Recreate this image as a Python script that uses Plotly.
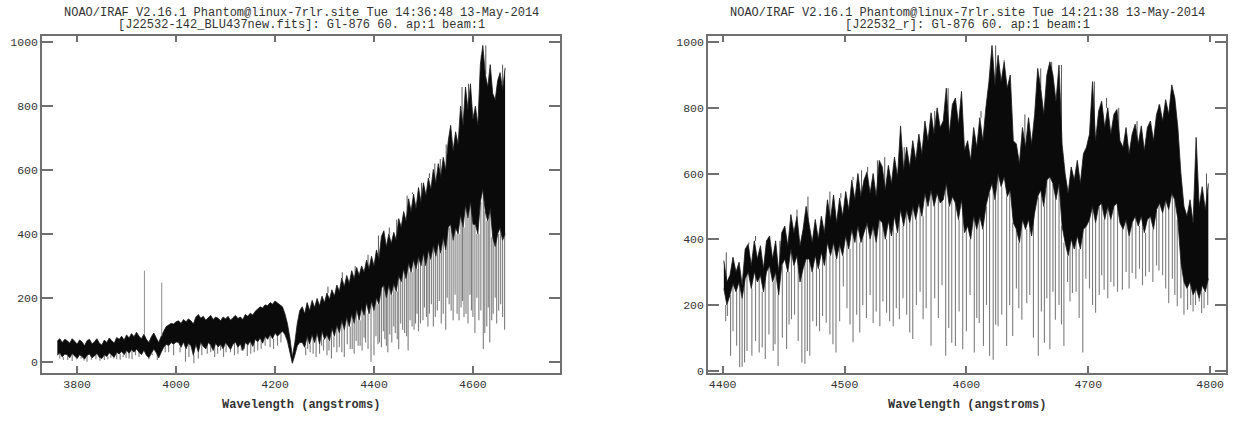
import numpy as np
import plotly.graph_objects as go

# ---------------- Left spectrum (J22532-142_BLU437new.fits), 5 A bins ----------------
L_START, L_STEP = 3760, 5
L_hi = [65, 72, 60, 70, 66, 58, 72, 64, 55, 68, 62, 50, 66, 70, 56, 62, 72, 58, 52, 68,
        60, 74, 66, 58, 76, 70, 80, 68, 84, 74, 88, 78, 92, 80, 72, 86,
        70, 60, 78, 90, 74, 60, 80,
        95, 110, 115, 120, 118, 125,
        128, 120, 132, 125, 134, 128, 118, 140, 148, 136, 142, 130, 138, 145, 132, 140, 136, 128, 140, 134,
        142, 130, 138, 145, 135, 140, 132, 148, 142, 152, 146, 158, 165, 172, 168, 178, 175, 185, 180, 190,
        184, 178,
        172, 150, 120, 75, 15, 60, 120, 160,
        172, 150, 185, 160, 192, 170, 198, 175, 205, 185,
        215, 195, 225, 205, 240, 220, 262, 235, 270, 245,
        285, 260, 295, 270, 300, 280, 318, 290, 330, 300,
        350, 320, 392, 410, 360, 400, 370, 405, 380, 448,
        420, 470, 440, 510, 470, 525, 480, 545, 500, 560,
        520, 575, 540, 602, 560, 620, 580, 640, 600, 690,
        740, 660, 720, 680, 800, 740, 860, 790, 870, 760,
        800, 740, 930, 990, 900, 860, 930, 840, 820, 880,
        905, 850, 920]
L_core = [20, 28, 15, 24, 22, 12, 26, 18, 10, 22, 16, 8, 20, 24, 12, 18, 26, 14, 10, 22,
          16, 28, 20, 14, 30, 24, 32, 22, 36, 26, 38, 30, 40, 30, 22, 36,
          20, 12, 26, 40, 28, 12, 30,
          45, 55, 50, 60, 55, 62,
          60, 45, 62, 40, 58, 50, 20, 55, 30, 62, 48, 40, 60, 52, 35, 58, 46, 55, 40, 60,
          50, 38, 55, 62, 45, 56, 35, 60, 52, 65, 48, 70, 62, 75, 58, 80, 70, 85, 72, 90,
          80, 88,
          95, 85, 65, 30, -5, 20, 50, 60,
          60, 45, 80, 55, 85, 60, 90, 55, 95, 70,
          85, 65, 105, 80, 115, 90, 130, 100, 140, 110,
          150, 120, 165, 130, 170, 145, 185, 150, 190, 160,
          200, 180, 230, 240, 200, 240, 210, 245, 220, 270,
          250, 290, 260, 310, 280, 320, 290, 330, 300, 340,
          300, 350, 320, 365, 330, 375, 340, 390, 350, 420,
          430, 380, 420, 400, 460, 420, 490, 450, 500, 430,
          430, 400, 500, 540, 470, 440, 480, 390, 360, 400,
          420, 380, 400]
L_dip_wl = [3765, 3772, 3781, 3790, 3799, 3808, 3814, 3820, 3829, 3838, 3846, 3855, 3862, 3868, 3874,
            3880, 3887, 3893, 3899, 3905, 3911, 3918, 3925, 3945, 3952, 3962, 3978, 3985, 3995,
            4008, 4019, 4026, 4036, 4045, 4052, 4063, 4070, 4078, 4084, 4090, 4096, 4101, 4110,
            4118, 4125, 4132, 4138, 4144, 4151, 4158, 4165, 4172, 4180, 4190, 4197, 4205, 4212,
            4262, 4266, 4271, 4277, 4283, 4290, 4294, 4298, 4305, 4309, 4314, 4319, 4325, 4330,
            4335, 4340, 4346, 4352, 4356, 4360, 4364, 4368, 4372, 4376, 4380, 4383, 4388, 4394,
            4400, 4404, 4408, 4411, 4415, 4419, 4422, 4425, 4428, 4432, 4436, 4440, 4443, 4447,
            4450, 4454, 4458, 4462, 4466, 4469, 4473, 4477, 4481, 4484, 4487, 4490, 4494, 4499,
            4502, 4506, 4509, 4512, 4516, 4520, 4524, 4528, 4532, 4536, 4540, 4545, 4548, 4552,
            4556, 4560, 4564, 4568, 4572, 4576, 4579, 4582, 4586, 4590, 4594, 4597, 4600, 4604,
            4608, 4612, 4616, 4621, 4624, 4628, 4631, 4634, 4638, 4641, 4645, 4648, 4652, 4656,
            4660, 4664]
L_dip_val = [10, 5, 5, 2, 8, 10, 4, 0, 6, 8, 3, 5, 8, 12, 10,
             8, 6, 15, 12, 10, 8, 20, 15, 8, 20, 5, 30, 30, 20,
             30, 0, 15, -5, 10, 20, 25, 30, 15, 25, 35, 15, 30, 30,
             20, 25, 35, 40, 18, 25, 30, 35, 40, 50, 45, 40, 50, 60,
             20, 40, 30, 25, 15, 25, 50, 35, 20, 35, 10, 45, 30, 45,
             30, 15, 55, 40, 40, 25, 65, 50, 50, 35, 75, 60, 40, 0,
             20, 80, 55, 60, 45, 95, 70, 50, 30, 85, 60, 110, 90, 70,
             40, 120, 100, 90, 80, 35, 130, 110, 100, 120, 150, 95, 120, 130,
             170, 140, 110, 150, 180, 110, 140, 160, 190, 120, 150, 100, 200, 180,
             160, 130, 210, 150, 130, 170, 190, 140, 150, 120, 210, 160, 140, 90,
             200, 130, 160, 40, 90, 110, 170, 60, 130, 150, 200, 120, 160, 180,
             140, 100]
L_spk_wl = [4307, 4336, 4362, 4388, 4409, 4431, 4446, 4467, 4478, 4496, 4512, 4523, 4534,
            4546, 4554, 4563, 4578, 4591, 4604, 4617, 4626, 4633, 4651, 4660]
L_spk_val = [235, 280, 300, 335, 395, 420, 445, 520, 530, 560, 590, 620, 635,
             680, 740, 720, 860, 870, 800, 960, 990, 930, 880, 930]
L_emis_wl = [3936, 3971]
L_emis_val = [285, 248]

# ---------------- Right spectrum (J22532_r), 2.5 A bins ----------------
R_START, R_STEP = 4401, 2.5
R_hi = [335, 270, 290, 345, 300, 330, 260, 370, 385, 320, 395, 340, 380, 310, 395, 410,
        340, 395, 300, 420, 440, 380, 475, 420, 470, 380, 430, 500, 445, 390, 460, 400,
        470, 420, 520, 460, 535, 450, 525, 470, 545, 490, 580, 520, 600, 530, 580, 605,
        540, 600, 530, 640, 620, 550, 625, 570, 650, 590, 745, 610, 680, 620, 700, 640,
        720, 660, 760, 700, 785, 720, 800, 740, 760, 860, 720, 810, 830, 750, 850, 670,
        700, 640, 740, 680, 770, 700, 800, 880, 990, 870, 960, 880, 940, 860, 900, 700,
        690, 630, 740, 680, 770, 690, 780, 920, 860, 780, 900, 940, 900, 820, 930, 690,
        600, 540, 620, 580, 640, 570, 660, 680, 720, 880, 700, 790, 820, 740, 800, 720,
        780, 795, 700, 680, 740, 660, 720, 750, 690, 745, 670, 740, 760, 700, 780, 810,
        760, 825, 780, 870, 830, 740, 600, 500, 470, 520, 450, 710, 500, 560, 490, 570]
R_core = [250, 200, 230, 265, 240, 270, 220, 280, 300, 250, 300, 270, 290, 240, 300, 320,
          270, 300, 230, 320, 340, 300, 370, 320, 350, 270, 310, 340, 340, 300, 350, 310,
          360, 320, 390, 350, 390, 340, 385, 350, 410, 370, 430, 390, 440, 390, 420, 450,
          400, 440, 390, 460, 450, 400, 455, 410, 470, 420, 490, 440, 490, 450, 500, 460,
          510, 470, 540, 500, 550, 500, 540, 510, 520, 570, 500, 530, 510, 460, 520, 420,
          440, 400, 470, 430, 470, 430, 500, 540, 570, 520, 600, 560, 590, 530, 550, 450,
          430, 390, 460, 430, 460, 410, 480, 530, 550, 500, 580, 590, 570, 520, 570, 440,
          390, 350, 400, 370, 410, 370, 430, 440, 460, 500, 450, 500, 510, 460, 500, 460,
          500, 510, 450, 430, 460, 410, 450, 470, 440, 470, 420, 460, 470, 430, 490, 510,
          480, 520, 490, 540, 520, 460, 330, 270, 250, 270, 230, 250, 220, 260, 240, 280]
R_dip_wl = [4402.5, 4404, 4406.5, 4408.5, 4411.5, 4414, 4416, 4418, 4420, 4424, 4427, 4430, 4432.5,
            4435, 4438, 4441.5, 4443, 4445.5, 4449, 4452.5, 4454.5, 4456.5, 4459, 4462, 4465,
            4467.5, 4469.5, 4471.5, 4474, 4477, 4479.5, 4482, 4485, 4488, 4490.5, 4493, 4496,
            4499, 4502, 4504.5, 4507, 4510, 4512.5, 4515, 4518, 4521, 4523.5, 4526, 4529,
            4531.5, 4534.5, 4537, 4540, 4542.5, 4545, 4548, 4551, 4553.5, 4556, 4559, 4562,
            4564.5, 4567, 4571, 4574, 4577, 4580, 4583, 4585.5, 4588, 4591, 4594, 4597, 4600,
            4603, 4606.5, 4608.5, 4610.5, 4614, 4616.5, 4619, 4622, 4624, 4626, 4629, 4633,
            4635.5, 4638, 4641, 4643, 4645.5, 4649.5, 4652, 4655, 4659, 4661.5, 4664, 4666,
            4668.5, 4671, 4673, 4676, 4678, 4680, 4683, 4685, 4687, 4690, 4692.5, 4695.5, 4698,
            4701, 4703.5, 4706, 4709, 4711, 4713, 4716, 4718.5, 4721, 4724, 4728, 4731, 4733.5,
            4736, 4739, 4742, 4744.5, 4747, 4750, 4753, 4756, 4758, 4761, 4763.5, 4766, 4769,
            4771, 4773, 4776, 4778.5, 4781.5, 4784, 4786, 4788, 4791, 4793, 4795, 4798]
R_dip_val = [150, 166, 45, 120, 76, 10, 12, 25, 60, 45, 90, 55, 70,
             35, 110, 60, 80, 14, 100, 66, 140, 156, 170, 90, 25,
             20, 60, 45, 150, 135, 120, 166, 146, 110, 80, 55, 150,
             256, 190, 140, 86, 170, 116, 200, 160, 230, 145, 180, 135,
             210, 176, 150, 135, 190, 156, 220, 170, 116, 96, 200, 240,
             156, 190, 76, 220, 160, 260, 45, 130, 85, 75, 180, 65, 120,
             230, 55, 160, 145, 75, 200, 45, 33, 140, 135, 170, 75,
             200, 105, 250, 190, 155, 205, 230, 100, 45, 180, 85, 220,
             65, 240, 155, 200, 140, 75, 270, 210, 236, 240, 160, 55, 280,
             250, 200, 176, 230, 290, 246, 220, 270, 256, 240, 246, 300, 250,
             297, 280, 310, 260, 287, 300, 270, 320, 305, 290, 250, 205, 280,
             230, 196, 220, 170, 185, 200, 180, 200, 210, 175, 190, 200]
R_spk_wl = [4403, 4421.5, 4427, 4447, 4461, 4470, 4488, 4497, 4507, 4514, 4519, 4527, 4533,
            4545.5, 4549, 4557, 4566, 4574, 4585, 4595, 4612, 4619.5, 4624, 4631, 4648, 4661,
            4670, 4678, 4705, 4715, 4725, 4740, 4758, 4768, 4789.5, 4797]
R_spk_val = [360, 390, 410, 395, 490, 530, 545, 540, 590, 610, 620, 640, 650,
             745, 680, 700, 760, 790, 860, 850, 790, 880, 990, 945, 780, 920,
             940, 930, 880, 830, 800, 760, 790, 870, 710, 600]

TITLE1_L = "NOAO/IRAF V2.16.1 Phantom@linux-7rlr.site Tue 14:36:48 13-May-2014"
TITLE2_L = "[J22532-142_BLU437new.fits]: Gl-876 60. ap:1 beam:1"
TITLE1_R = "NOAO/IRAF V2.16.1 Phantom@linux-7rlr.site Tue 14:21:38 13-May-2014"
TITLE2_R = "[J22532_r]: Gl-876 60. ap:1 beam:1"
XLABEL = "Wavelength (angstroms)"
X_TICKS_L = [3800, 4000, 4200, 4400, 4600]
X_TICKS_R = [4400, 4500, 4600, 4700, 4800]
Y_TICKS = [0, 200, 400, 600, 800, 1000]

FONT = "Liberation Mono"
W, H = 1235, 425


def segments(start, step, ref, wls, vals):
    xs, ys = [], []
    n = len(ref)
    for w, v in zip(wls, vals):
        i = int(round((w - start) / step))
        i = min(max(i, 0), n - 1)
        xs += [w, w, None]
        ys += [v, ref[i], None]
    return xs, ys


def add_lines(fig, xs, ys, xa, ya, color, width):
    fig.add_trace(go.Scatter(x=xs, y=ys, mode="lines", xaxis=xa, yaxis=ya,
                             line=dict(color=color, width=width), hoverinfo="skip",
                             showlegend=False))


fig = go.Figure()

panels = [
    (L_START, L_STEP, L_hi, L_core, L_dip_wl, L_dip_val, L_spk_wl, L_spk_val, "x", "y"),
    (R_START, R_STEP, R_hi, R_core, R_dip_wl, R_dip_val, R_spk_wl, R_spk_val, "x2", "y2"),
]
for start, step, hi, core, dwl, dval, swl, sval, xa, ya in panels:
    wl = start + step * np.arange(len(hi))
    dx, dy = segments(start, step, core, dwl, dval)
    add_lines(fig, dx, dy, xa, ya, "#7d7d7d", 1.1)
    sx, sy = segments(start, step, hi, swl, sval)
    add_lines(fig, sx, sy, xa, ya, "#555555", 1)
    fig.add_trace(go.Scatter(x=wl, y=core, mode="lines", xaxis=xa, yaxis=ya,
                             line=dict(color="#1a1a1a", width=0.8, simplify=False),
                             hoverinfo="skip", showlegend=False))
    fig.add_trace(go.Scatter(x=wl, y=hi, mode="lines", xaxis=xa, yaxis=ya,
                             fill="tonexty", fillcolor="#0a0a0a",
                             line=dict(color="#1a1a1a", width=0.8, simplify=False),
                             hoverinfo="skip", showlegend=False))

ex, ey = segments(L_START, L_STEP, L_hi, L_emis_wl, L_emis_val)
add_lines(fig, ex, ey, "x", "y", "#8f8f8f", 1)

yb, yt = 1 - 377 / H, 1 - 36 / H
axis_common = dict(showline=True, mirror="ticks", linecolor="#707070", linewidth=1.5,
                   ticks="inside", tickcolor="#707070", tickwidth=1.5,
                   showgrid=False, zeroline=False,
                   tickfont=dict(family=FONT, size=11.5, color="#333333"))

fig.update_layout(
    width=W, height=H,
    margin=dict(l=0, r=0, t=0, b=0),
    paper_bgcolor="white", plot_bgcolor="white",
    showlegend=False,
    xaxis=dict(domain=[42 / W, 560 / W], range=[3729, 4776], tickvals=X_TICKS_L,
               ticklen=7, anchor="y", **axis_common),
    yaxis=dict(domain=[yb, yt], range=[-34, 1021], tickvals=Y_TICKS,
               ticklen=11, anchor="x", **axis_common),
    xaxis2=dict(domain=[708 / W, 1226 / W], range=[4388, 4813], tickvals=X_TICKS_R,
                ticklen=7, anchor="y2", **axis_common),
    yaxis2=dict(domain=[yb, yt], range=[-6, 1020], tickvals=Y_TICKS,
                ticklen=11, anchor="x2", **axis_common),
)

ann_font = dict(family=FONT, size=12, color="#333333")
cx_l, cx_r = (42 + 560) / 2 / W, (708 + 1226) / 2 / W
for cx, t1, t2 in [(cx_l, TITLE1_L, TITLE2_L), (cx_r, TITLE1_R, TITLE2_R)]:
    fig.add_annotation(x=cx, y=1 - 13 / H, xref="paper", yref="paper", text=t1,
                       showarrow=False, xanchor="center", yanchor="middle", font=ann_font)
    fig.add_annotation(x=cx, y=1 - 25 / H, xref="paper", yref="paper", text=t2,
                       showarrow=False, xanchor="center", yanchor="middle", font=ann_font)
    fig.add_annotation(x=cx, y=1 - 410 / H, xref="paper", yref="paper", text="<b>" + XLABEL + "</b>",
                       showarrow=False, xanchor="center", yanchor="middle",
                       font=dict(family=FONT, size=12, color="#333333"))

fig.write_html("out.html")
